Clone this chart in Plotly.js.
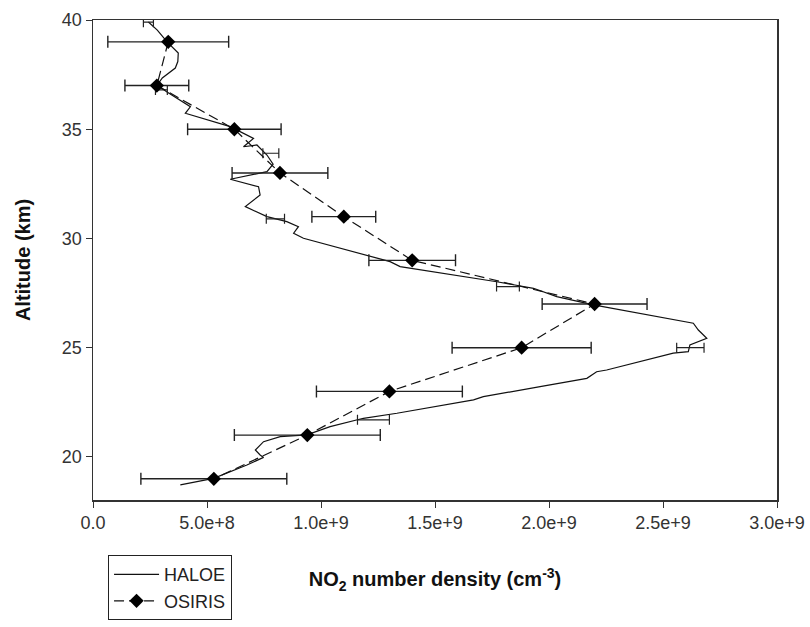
<!DOCTYPE html>
<html>
<head>
<meta charset="utf-8">
<script src="https://cdn.plot.ly/plotly-3.0.1.min.js"></script>
<style>html,body{margin:0;padding:0;background:#fff;}#chart{width:810px;height:627px;}</style>
</head>
<body>
<div id="chart"></div>
<script>
// OSIRIS profile (altitude km, NO2 number density cm^-3)
const osirisAlt = [39, 37, 35, 33, 31, 29, 27, 25, 23, 21, 19];
const osirisNO2 = [3.3e8, 2.8e8, 6.2e8, 8.2e8, 1.10e9, 1.40e9, 2.20e9, 1.88e9, 1.30e9, 0.94e9, 0.53e9];
const osirisErr = [2.65e8, 1.4e8, 2.05e8, 2.1e8, 1.4e8, 1.9e8, 2.3e8, 3.05e8, 3.2e8, 3.2e8, 3.2e8];

// HALOE profile
const haloeAlt = [39.91, 39.54, 38.99, 38.49, 38.1, 37.80, 37.35, 37.03, 36.72, 36.03, 35.73, 35.12,
  34.58, 34.20, 34.28, 33.82, 33.40, 33.06, 32.71, 32.37, 31.99, 31.46, 31.00, 30.77, 30.54, 30.24,
  30.01, 29.17, 28.94, 28.71, 28.48, 28.02, 27.72, 27.34, 26.96, 26.58, 26.12, 25.81, 25.43, 25.13,
  24.82, 24.75, 23.98, 23.90, 23.67, 23.60, 23.22, 22.76, 22.61, 22.00, 21.77, 21.39, 21.01, 20.93,
  20.70, 20.32, 20.09, 19.98, 19.63, 19.02, 18.72];
const haloeNO2 = [0.243e9, 0.282e9, 0.326e9, 0.374e9, 0.372e9, 0.361e9, 0.304e9, 0.282e9, 0.323e9, 0.427e9, 0.405e9, 0.602e9,
  0.704e9, 0.660e9, 0.719e9, 0.763e9, 0.790e9, 0.763e9, 0.602e9, 0.726e9, 0.733e9, 0.668e9, 0.763e9, 0.850e9, 0.901e9, 0.880e9,
  0.923e9, 1.216e9, 1.303e9, 1.347e9, 1.494e9, 1.771e9, 1.932e9, 2.034e9, 2.195e9, 2.399e9, 2.633e9, 2.655e9, 2.692e9, 2.618e9,
  2.611e9, 2.545e9, 2.253e9, 2.209e9, 2.180e9, 2.166e9, 1.961e9, 1.712e9, 1.669e9, 1.333e9, 1.186e9, 1.040e9, 0.938e9, 0.821e9,
  0.748e9, 0.712e9, 0.733e9, 0.748e9, 0.675e9, 0.529e9, 0.383e9];

// HALOE error bars (sparse)
const haloeErrAlt = [39.9, 36.8, 33.9, 30.9, 27.8, 25.0, 21.7];
const haloeErrNO2 = [0.243e9, 0.30e9, 0.78e9, 0.80e9, 1.82e9, 2.62e9, 1.23e9];
const haloeErrVal = [0.022e9, 0.026e9, 0.035e9, 0.04e9, 0.05e9, 0.06e9, 0.07e9];

const xTickVals = [0, 5e8, 1e9, 1.5e9, 2e9, 2.5e9, 3e9];
const xTickText = ['0.0', '5.0e+8', '1.0e+9', '1.5e+9', '2.0e+9', '2.5e+9', '3.0e+9'];
const yTickVals = [20, 25, 30, 35, 40];

const traces = [
  {
    x: haloeNO2, y: haloeAlt, type: 'scatter', mode: 'lines', name: 'HALOE',
    line: {color: '#111', width: 1.2}
  },
  {
    x: haloeErrNO2, y: haloeErrAlt, type: 'scatter', mode: 'markers', showlegend: false,
    marker: {size: 1, color: 'rgba(0,0,0,0)'},
    error_x: {type: 'data', array: haloeErrVal, visible: true, color: '#222', thickness: 1.2, width: 5}
  },
  {
    x: osirisNO2, y: osirisAlt, type: 'scatter', mode: 'lines+markers', name: 'OSIRIS',
    line: {color: '#111', width: 1.2, dash: '10px,5px'},
    marker: {symbol: 'diamond', size: 11, color: '#000'},
    error_x: {type: 'data', array: osirisErr, visible: true, color: '#222', thickness: 1.4, width: 6}
  }
];

const layout = {
  width: 810, height: 627,
  margin: {l: 93, r: 33, t: 20, b: 127, autoexpand: false},
  paper_bgcolor: '#fff', plot_bgcolor: '#fff',
  font: {family: 'Liberation Sans, Arial, sans-serif', color: '#222', size: 18},
  showlegend: true,
  legend: {
    x: 0.022, y: -0.115, xanchor: 'left', yanchor: 'top',
    bordercolor: '#222', borderwidth: 1, bgcolor: '#fff',
    font: {size: 18, color: '#222'}, itemwidth: 45, tracegroupgap: 0
  },
  xaxis: {
    range: [0, 3e9], tickmode: 'array', tickvals: xTickVals, ticktext: xTickText, automargin: false,
    ticks: 'outside', ticklen: 6, tickcolor: '#333', showgrid: false, zeroline: false,
    showline: true, linecolor: '#333', linewidth: 1.5, mirror: true,
    tickfont: {size: 18, color: '#333'},
    title: {text: '<b>NO<sub>2</sub> number density (cm<sup>-3</sup>)</b>', font: {size: 20, color: '#111'}, standoff: 40}
  },
  yaxis: {
    range: [18.03, 40], tickmode: 'array', tickvals: yTickVals, automargin: false,
    ticks: 'outside', ticklen: 6, tickcolor: '#333', showgrid: false, zeroline: false,
    showline: true, linecolor: '#333', linewidth: 1.5, mirror: true,
    tickfont: {size: 18, color: '#333'},
    title: {text: '<b>Altitude (km)</b>', font: {size: 20, color: '#111'}, standoff: 26}
  }
};

Plotly.newPlot('chart', traces, layout, {displayModeBar: false, staticPlot: true});
</script>
</body>
</html>
